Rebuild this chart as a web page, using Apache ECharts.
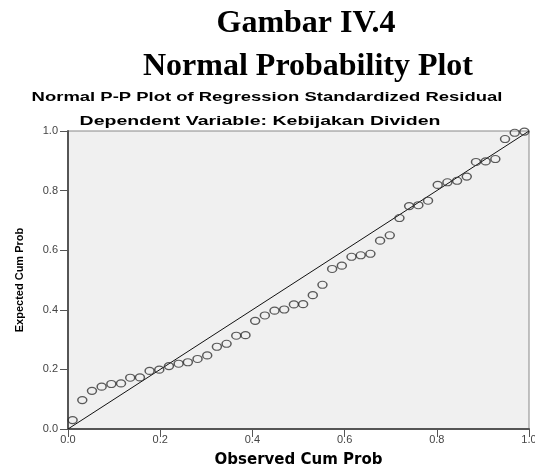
<!DOCTYPE html>
<html>
<head>
<meta charset="utf-8">
<script src="https://cdn.jsdelivr.net/npm/echarts@6/dist/echarts.min.js"></script>
<style>html,body{margin:0;padding:0;background:#fff;}#c{width:535px;height:465px;}</style>
</head>
<body>
<div id="c"></div>
<script>
var mainTitle1 = 'Gambar IV.4';
var mainTitle2 = 'Normal Probability Plot';
var chartTitle = 'Normal P-P Plot of Regression Standardized Residual';
var chartSubtitle = 'Dependent Variable: Kebijakan Dividen';
var xAxisName = 'Observed Cum Prob';
var yAxisName = 'Expected Cum Prob';
var tickValues = [0, 0.2, 0.4, 0.6, 0.8, 1.0];

var observedCumProb = [0.010, 0.031, 0.052, 0.073, 0.094, 0.115, 0.135, 0.156, 0.177, 0.198,
  0.219, 0.240, 0.260, 0.281, 0.302, 0.323, 0.344, 0.365, 0.385, 0.406,
  0.427, 0.448, 0.469, 0.490, 0.510, 0.531, 0.552, 0.573, 0.594, 0.615,
  0.635, 0.656, 0.677, 0.698, 0.719, 0.740, 0.760, 0.781, 0.802, 0.823,
  0.844, 0.865, 0.885, 0.906, 0.927, 0.948, 0.969, 0.990];
var expectedCumProb = [0.030, 0.097, 0.128, 0.142, 0.151, 0.153, 0.172, 0.173, 0.195, 0.199,
  0.211, 0.219, 0.224, 0.235, 0.247, 0.276, 0.286, 0.313, 0.315, 0.363,
  0.381, 0.397, 0.401, 0.418, 0.419, 0.449, 0.484, 0.537, 0.548, 0.578,
  0.583, 0.588, 0.632, 0.650, 0.708, 0.748, 0.751, 0.766, 0.819, 0.828,
  0.833, 0.847, 0.896, 0.898, 0.906, 0.973, 0.994, 0.998];
var refLineX = [0, 1];
var refLineY = [0, 1];

var points = observedCumProb.map(function (x, i) { return [x, expectedCumProb[i]]; });
var refLine = refLineX.map(function (x, i) { return [x, refLineY[i]]; });

var chart = echarts.init(document.getElementById('c'), null, {renderer: 'canvas'});
var axisCommon = {
  type: 'value', min: tickValues[0], max: tickValues[tickValues.length - 1], interval: 0.2,
  axisLine: {show: true, onZero: false, lineStyle: {color: '#555', width: 2}},
  axisTick: {show: true, inside: false, length: 8, lineStyle: {color: '#555', width: 1}},
  axisLabel: {color: '#444', fontSize: 11, fontFamily: 'Liberation Sans, Arial, sans-serif',
    formatter: function (v) { return v.toFixed(1); }},
  splitLine: {show: false}
};
chart.setOption({
  animation: false,
  backgroundColor: '#fff',
  graphic: [
    {type: 'text', x: 306, y: 24, style: {text: mainTitle1, fill: '#000', font: 'bold 32px "Liberation Serif", "Times New Roman", serif', textAlign: 'center', textVerticalAlign: 'middle'}},
    {type: 'text', x: 308, y: 67, style: {text: mainTitle2, fill: '#000', font: 'bold 32px "Liberation Serif", "Times New Roman", serif', textAlign: 'center', textVerticalAlign: 'middle'}},
    {type: 'text', x: 267, y: 97, scaleX: 1.42, style: {text: chartTitle, fill: '#000', font: 'bold 13px "Liberation Sans", Arial, sans-serif', textAlign: 'center', textVerticalAlign: 'middle'}},
    {type: 'text', x: 260, y: 121, scaleX: 1.5, style: {text: chartSubtitle, fill: '#000', font: 'bold 13px "Liberation Sans", Arial, sans-serif', textAlign: 'center', textVerticalAlign: 'middle'}}
  ],
  grid: {left: 68, top: 131, right: 6, bottom: 36, containLabel: false, outerBoundsMode: 'none',
    show: true, backgroundColor: '#f0f0f0', borderColor: '#888', borderWidth: 1},
  xAxis: Object.assign({}, axisCommon, {
    name: xAxisName, nameLocation: 'middle', nameGap: 24,
    nameTextStyle: {color: '#000', fontWeight: 'bold', fontSize: 15, fontFamily: '"DejaVu Sans", sans-serif'},
    axisLabel: Object.assign({}, axisCommon.axisLabel, {margin: 5})
  }),
  yAxis: Object.assign({}, axisCommon, {
    name: yAxisName, nameLocation: 'middle', nameGap: 43,
    nameTextStyle: {color: '#000', fontWeight: 'bold', fontSize: 11, fontFamily: '"Liberation Sans", Arial, sans-serif'},
    axisLabel: Object.assign({}, axisCommon.axisLabel, {margin: 10})
  }),
  series: [
    {type: 'line', data: refLine, symbol: 'none', silent: true,
      lineStyle: {color: '#111', width: 1}, z: 2},
    {type: 'scatter', data: points, symbol: 'circle', symbolSize: [9, 7],
      itemStyle: {color: 'rgba(0,0,0,0)', borderColor: '#333', borderWidth: 1.3}, z: 3}
  ]
});
</script>
</body>
</html>
